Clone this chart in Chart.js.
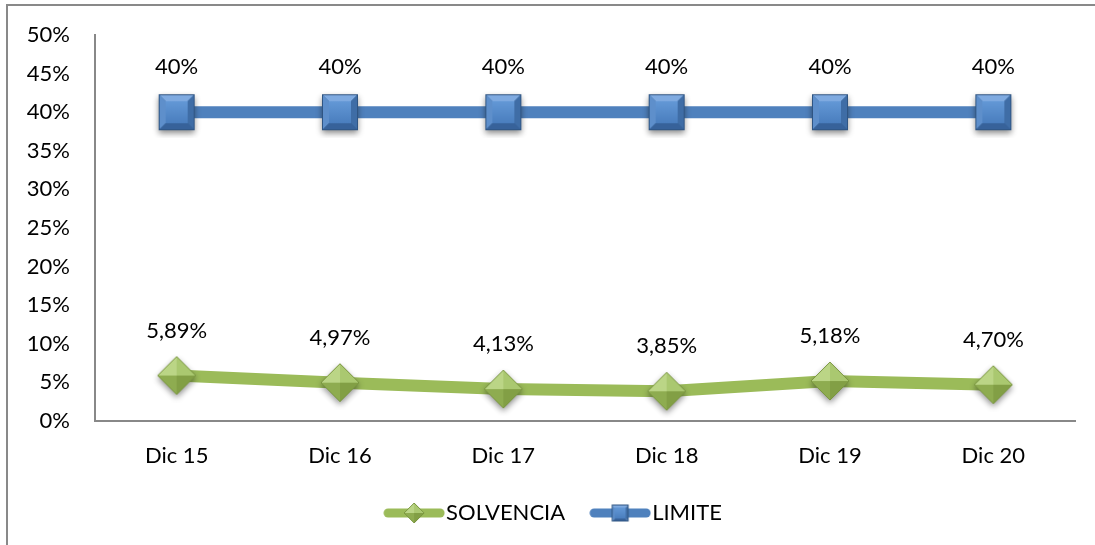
<!DOCTYPE html>
<html>
<head>
<meta charset="utf-8">
<script src="https://cdn.jsdelivr.net/npm/chart.js@4"></script>
<style>
  html, body { margin: 0; padding: 0; background: #fff; }
  #wrap { position: relative; width: 1095px; height: 545px; }
</style>
</head>
<body>
<div id="wrap"><canvas id="chart" width="1095" height="545"></canvas></div>
<script>
const categories = ['Dic 15', 'Dic 16', 'Dic 17', 'Dic 18', 'Dic 19', 'Dic 20']
const solvencia = [5.89, 4.97, 4.13, 3.85, 5.18, 4.70]
const limite = [40, 40, 40, 40, 40, 40]
const yTicks = [0, 5, 10, 15, 20, 25, 30, 35, 40, 45, 50]

const GREEN = '#9BBB59'
const BLUE = '#4F81BD'
const FONT = 'Lato'

// beveled square marker, like the office "3d" markers
function squareMarker(size, withShadow) {
  const pad = 8
  const c = document.createElement('canvas')
  c.width = c.height = size + pad * 2
  const g = c.getContext('2d')
  const x0 = pad, y0 = pad, x1 = pad + size, y1 = pad + size
  const b = Math.round(size * 0.2)
  if (withShadow) {
    g.save()
    g.shadowColor = 'rgba(0,0,0,0.45)'
    g.shadowBlur = 6
    g.shadowOffsetY = 3
    g.fillStyle = '#3C6698'
    g.fillRect(x0, y0, size, size)
    g.restore()
  }
  const face = (pts, col) => {
    g.beginPath()
    g.moveTo(pts[0][0], pts[0][1])
    pts.slice(1).forEach(p => g.lineTo(p[0], p[1]))
    g.closePath()
    g.fillStyle = col
    g.fill()
  }
  face([[x0, y0], [x1, y0], [x1 - b, y0 + b], [x0 + b, y0 + b]], '#7FAAE0')
  face([[x0, y0], [x0 + b, y0 + b], [x0 + b, y1 - b], [x0, y1]], '#5E8FCB')
  face([[x1, y0], [x1, y1], [x1 - b, y1 - b], [x1 - b, y0 + b]], '#3F6DA6')
  face([[x0, y1], [x0 + b, y1 - b], [x1 - b, y1 - b], [x1, y1]], '#37629A')
  const grd = g.createLinearGradient(0, y0 + b, 0, y1 - b)
  grd.addColorStop(0, '#6398D6')
  grd.addColorStop(1, '#4A7EBE')
  g.fillStyle = grd
  g.fillRect(x0 + b, y0 + b, size - 2 * b, size - 2 * b)
  g.strokeStyle = '#2F5583'
  g.lineWidth = 1
  g.strokeRect(x0 + 0.5, y0 + 0.5, size - 1, size - 1)
  return c
}

// pyramid style diamond marker
function diamondMarker(size, withShadow) {
  const pad = 8
  const c = document.createElement('canvas')
  c.width = c.height = size + pad * 2
  const g = c.getContext('2d')
  const cx = c.width / 2, cy = c.height / 2, r = size / 2
  const T = [cx, cy - r], R = [cx + r, cy], B = [cx, cy + r], L = [cx - r, cy], C = [cx, cy]
  const tri = (a, b2, col) => {
    g.beginPath()
    g.moveTo(a[0], a[1]); g.lineTo(b2[0], b2[1]); g.lineTo(C[0], C[1])
    g.closePath()
    g.fillStyle = col
    g.fill()
  }
  if (withShadow) {
    g.save()
    g.shadowColor = 'rgba(0,0,0,0.45)'
    g.shadowBlur = 6
    g.shadowOffsetY = 3
    g.beginPath()
    g.moveTo(T[0], T[1]); g.lineTo(R[0], R[1]); g.lineTo(B[0], B[1]); g.lineTo(L[0], L[1])
    g.closePath()
    g.fillStyle = '#86A34A'
    g.fill()
    g.restore()
  }
  tri(L, T, '#BBD586')
  tri(T, R, '#AAC870')
  tri(R, B, '#829F45')
  tri(B, L, '#8EAC50')
  g.beginPath()
  g.moveTo(T[0], T[1]); g.lineTo(R[0], R[1]); g.lineTo(B[0], B[1]); g.lineTo(L[0], L[1])
  g.closePath()
  g.strokeStyle = '#7A9640'
  g.lineWidth = 1
  g.stroke()
  return c
}

function legendSymbol(color, marker) {
  const c = document.createElement('canvas')
  c.width = 62
  c.height = 26
  const g = c.getContext('2d')
  g.strokeStyle = color
  g.lineWidth = 9
  g.lineCap = 'round'
  g.beginPath()
  g.moveTo(5, 13)
  g.lineTo(57, 13)
  g.stroke()
  g.drawImage(marker, (c.width - marker.width) / 2, (c.height - marker.height) / 2)
  return c
}

const greenPoint = diamondMarker(38, true)
const bluePoint = squareMarker(36, true)
const greenLegend = legendSymbol(GREEN, diamondMarker(20, false))
const blueLegend = legendSymbol(BLUE, squareMarker(17, false))

function fmtPct(v) {
  return Number.isInteger(v) ? v + '%' : v.toFixed(2).replace('.', ',') + '%'
}

const valueLabels = {
  id: 'valueLabels',
  afterDatasetsDraw(chart) {
    const ctx = chart.ctx
    ctx.save()
    ctx.font = '22px ' + FONT
    ctx.fillStyle = '#000'
    ctx.textAlign = 'center'
    ctx.textBaseline = 'middle'
    chart.data.datasets.forEach((ds, i) => {
      chart.getDatasetMeta(i).data.forEach((pt, j) => {
        ctx.fillText(fmtPct(ds.data[j]), pt.x, pt.y - 45)
      })
    })
    ctx.restore()
  }
}

const frame = {
  id: 'frame',
  beforeDraw(chart) {
    const ctx = chart.ctx
    ctx.save()
    ctx.strokeStyle = '#898989'
    ctx.lineWidth = 2
    ctx.strokeRect(7, 5, 3000, 3000)
    ctx.restore()
  }
}

// nudge the legend a bit right, where the original sits
const legendShift = {
  id: 'legendShift',
  afterLayout(chart) {
    chart.legend.left += 40
  }
}

const config = {
  type: 'line',
  data: {
    labels: categories,
    datasets: [
      {
        label: 'SOLVENCIA',
        data: solvencia,
        borderColor: GREEN,
        borderWidth: 12,
        pointStyle: greenPoint,
        legendSymbol: greenLegend
      },
      {
        label: 'LIMITE',
        data: limite,
        borderColor: BLUE,
        borderWidth: 12,
        pointStyle: bluePoint,
        legendSymbol: blueLegend
      }
    ]
  },
  options: {
    responsive: false,
    animation: false,
    events: [],
    layout: {
      autoPadding: false,
      padding: { top: 35, right: 20, left: 0, bottom: 11 }
    },
    scales: {
      x: {
        offset: true,
        grid: { display: false, drawTicks: false },
        border: { display: true, color: '#888888', width: 2 },
        ticks: { color: '#000', font: { family: FONT, size: 22 }, padding: 22 },
        afterFit: scale => { scale.height = 47 }
      },
      y: {
        min: 0,
        max: 50,
        afterBuildTicks: scale => { scale.ticks = yTicks.map(v => ({ value: v })) },
        grid: { display: false, drawTicks: false },
        border: { display: true, color: '#888888', width: 2 },
        ticks: {
          color: '#000',
          font: { family: FONT, size: 22 },
          padding: 25,
          callback: v => v + '%'
        },
        afterFit: scale => {
          scale.width = 95
          scale.paddingTop = 0
          scale.paddingBottom = 0
        }
      }
    },
    plugins: {
      legend: {
        position: 'bottom',
        labels: {
          usePointStyle: true,
          pointStyleWidth: 42,
          padding: 34,
          color: '#000',
          font: { family: FONT, size: 22 },
          generateLabels: chart => chart.data.datasets.map((ds, i) => ({
            text: ds.label,
            pointStyle: ds.legendSymbol,
            fontColor: '#000',
            datasetIndex: i,
            hidden: false,
            lineWidth: 0
          }))
        }
      },
      tooltip: { enabled: false }
    }
  },
  plugins: [frame, legendShift, valueLabels]
}

document.fonts.load('22px ' + FONT).then(() => {
  new Chart(document.getElementById('chart').getContext('2d'), config)
})
</script>
</body>
</html>
